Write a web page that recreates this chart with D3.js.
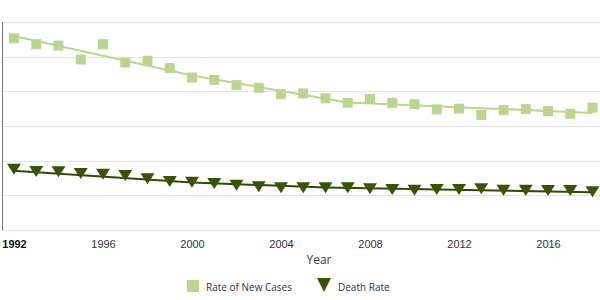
<!DOCTYPE html>
<html><head><meta charset="utf-8">
<script src="https://cdn.jsdelivr.net/npm/d3@7"></script>
<style>
html,body{margin:0;padding:0;background:#fff;}
svg{display:block;font-family:"Liberation Sans",Arial,sans-serif;}
</style></head>
<body><svg id="c" width="600" height="300"></svg>
<script>
const years = d3.range(1992, 2019);
const newCases = [55.3,53.6,53.2,49.2,53.6,48.3,48.8,46.7,44.0,43.3,41.8,41.0,39.2,39.4,38.0,36.7,37.8,36.7,36.3,34.8,35.0,33.2,34.6,34.9,34.3,33.5,35.3];
const deathRate = [17.5,16.9,16.8,16.3,16.1,15.7,14.8,14.0,13.8,13.4,12.9,12.5,12.2,12.2,12.2,12.2,11.9,11.7,11.5,11.7,11.7,11.9,11.5,11.5,11.4,11.4,11.0];
const newCasesTrendYears = [1992, 2000, 2007, 2018];
const newCasesTrend = [55.96, 44.56, 36.78, 33.75];
const deathTrendYears = [1992, 2000, 2006, 2018];
const deathTrend = [17.1, 13.7, 12.26, 10.87];
const xTicks = [1992, 1996, 2000, 2004, 2008, 2012, 2016];
const yGrid = [10, 20, 30, 40, 50, 60];
const legendLabels = ["Rate of New Cases", "Death Rate"];

const lightGreen = "#b9d68e", darkGreen = "#375500";
const svg = d3.select("#c");
const pLeft = 2, pRight = 600, pTop = 22, pBottom = 230;
const x = d3.scaleLinear().domain([1992, 2018]).range([14, 592.5]);
const y = d3.scaleLinear().domain([0, 60]).range([pBottom, pTop]);

// gridlines
svg.append("g").selectAll("line").data(yGrid).join("line")
  .attr("x1", pLeft).attr("x2", pRight)
  .attr("y1", d => Math.round(y(d)) + 0.5).attr("y2", d => Math.round(y(d)) + 0.5)
  .attr("stroke", "#e3e3e3").attr("stroke-width", 1);

// x axis
const xAxis = svg.append("g").attr("transform", `translate(0,${pBottom})`)
  .call(d3.axisBottom(x).tickValues(xTicks).tickFormat(d3.format("d")).tickSize(0).tickPadding(10));
xAxis.select(".domain").remove();
xAxis.append("line").attr("x1", pLeft).attr("x2", pRight).attr("y1", 0.5).attr("y2", 0.5)
  .attr("stroke", "#e3e3e3");
xAxis.selectAll(".tick text").attr("font-size", 11)
  .attr("font-family", "Liberation Sans, Arial, sans-serif")
  .attr("font-weight", d => d === 1992 ? "bold" : "normal")
  .attr("fill", d => d === 1992 ? "#111" : "#333");

// y axis line
svg.append("line").attr("x1", pLeft + 0.5).attr("x2", pLeft + 0.5)
  .attr("y1", pTop).attr("y2", pBottom).attr("stroke", "#777").attr("stroke-width", 1);

// axis title
svg.append("text").attr("x", 319).attr("y", 264).attr("text-anchor", "middle")
  .attr("font-size", 12).attr("fill", "#333").attr("font-family", "Open Sans, sans-serif").text("Year");

const line = d3.line().x(d => x(d[0])).y(d => y(d[1]));

// trend lines
svg.append("path").datum(newCasesTrendYears.map((yr, i) => [yr, newCasesTrend[i]]))
  .attr("d", line).attr("fill", "none").attr("stroke", lightGreen).attr("stroke-width", 2);
svg.append("path").datum(deathTrendYears.map((yr, i) => [yr, deathTrend[i]]))
  .attr("d", line).attr("fill", "none").attr("stroke", "#2e4a08").attr("stroke-width", 2);

// squares
const sq = 10;
svg.append("g").selectAll("rect").data(years.map((yr, i) => [yr, newCases[i]])).join("rect")
  .attr("x", d => x(d[0]) - sq / 2).attr("y", d => y(d[1]) - sq / 2)
  .attr("width", sq).attr("height", sq).attr("fill", lightGreen);

// triangles
const tri = (w, h) => `M${-w/2},${-h/2}L${w/2},${-h/2}L0,${h/2}Z`;
svg.append("g").selectAll("path").data(years.map((yr, i) => [yr, deathRate[i]])).join("path")
  .attr("transform", d => `translate(${x(d[0])},${y(d[1])})`)
  .attr("d", tri(14, 11)).attr("fill", darkGreen);

// legend
const lg = svg.append("g");
lg.append("rect").attr("x", 187).attr("y", 280).attr("width", 12).attr("height", 12).attr("fill", lightGreen);
lg.append("text").attr("x", 206).attr("y", 291).attr("font-size", 10).attr("fill", "#333")
  .attr("font-family", "Open Sans, sans-serif").text(legendLabels[0]);
lg.append("path").attr("transform", "translate(324,285)").attr("d", tri(14, 14)).attr("fill", darkGreen);
lg.append("text").attr("x", 338).attr("y", 291).attr("font-size", 10).attr("fill", "#333")
  .attr("font-family", "Open Sans, sans-serif").text(legendLabels[1]);
</script></body></html>
